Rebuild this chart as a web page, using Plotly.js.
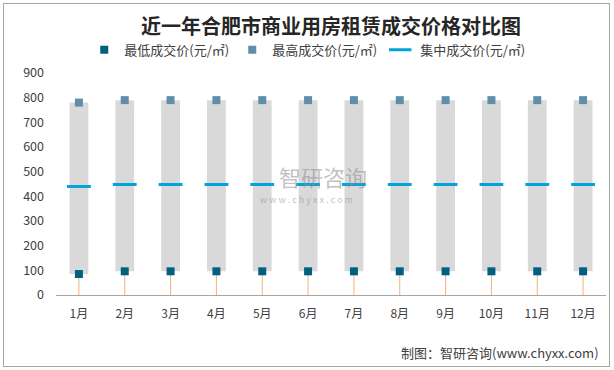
<!DOCTYPE html>
<html>
<head>
<meta charset="utf-8">
<script src="https://cdn.plot.ly/plotly-3.0.1.min.js"></script>
<style>
  html, body { margin: 0; padding: 0; background: #fff; }
  #wrap { position: relative; width: 614px; height: 370px; }
  #chart { width: 614px; height: 370px; }
  #frame { position: absolute; left: 3px; top: 3px; width: 605px; height: 362px; border: 1px solid #A6A6A6; pointer-events: none; }
</style>
</head>
<body>
<div id="wrap"><div id="chart"></div><div id="frame"></div></div>
<script>
var months = ["1月","2月","3月","4月","5月","6月","7月","8月","9月","10月","11月","12月"];
var minPrice = [85, 96, 96, 96, 96, 96, 96, 96, 96, 96, 96, 96];
var maxPrice = [780, 790, 790, 790, 790, 790, 790, 790, 790, 790, 790, 790];
var midPrice = [440, 448, 448, 448, 448, 448, 448, 448, 448, 448, 448, 448];
var seriesNames = ["最低成交价(元/㎡)", "最高成交价(元/㎡)", "集中成交价(元/㎡)"];
var yTicks = [0, 100, 200, 300, 400, 500, 600, 700, 800, 900];

var span = maxPrice.map(function (v, i) { return v - minPrice[i]; });
var zeros = minPrice.map(function () { return 0; });
var font = "'Noto Sans CJK SC', 'Noto Sans', sans-serif";

var traces = [
  {
    type: "bar", x: months, y: span, base: minPrice, width: 0.41,
    marker: { color: "#D9D9D9" }, showlegend: false, hoverinfo: "skip"
  },
  {
    type: "scatter", mode: "markers", x: months, y: minPrice, name: seriesNames[0],
    marker: { symbol: "square", size: 8, color: "#006082" },
    error_y: { type: "data", symmetric: false, array: zeros, arrayminus: minPrice,
               color: "#F4B183", thickness: 1, width: 0 }
  },
  {
    type: "scatter", mode: "markers", x: months, y: maxPrice, name: seriesNames[1],
    marker: { symbol: "square", size: 8, color: "#5E8FAA" }
  },
  {
    type: "scatter", mode: "markers", x: months, y: midPrice, name: seriesNames[2],
    marker: { symbol: "line-ew", size: 17, color: "#00A3DC", line: { color: "#00A3DC", width: 3 } }
  }
];

var layout = {
  width: 614, height: 370,
  margin: { l: 56, r: 8, t: 73, b: 75 },
  paper_bgcolor: "#ffffff", plot_bgcolor: "#ffffff",
  font: { family: font, size: 12, color: "#404040" },
  title: {
    text: "<b>近一年合肥市商业用房租赁成交价格对比图</b>",
    x: 0.5, xref: "paper", xanchor: "center",
    y: 0.927, yref: "container", yanchor: "middle",
    font: { family: font, size: 20, color: "#262626" }
  },
  showlegend: true,
  legend: {
    orientation: "h", x: 0.455, xanchor: "center", y: 1.105, yanchor: "middle",
    font: { family: font, size: 13, color: "#404040" },
    entrywidth: 103, entrywidthmode: "pixels", itemwidth: 30,
    bgcolor: "rgba(0,0,0,0)"
  },
  xaxis: {
    type: "category", range: [-0.5, 11.5], autorange: false,
    showgrid: false, zeroline: false,
    showline: true, linecolor: "#A6A6A6", linewidth: 1,
    ticks: "", ticklabelstandoff: 8,
    tickfont: { family: font, size: 12, color: "#404040" }
  },
  yaxis: {
    range: [0, 900], autorange: false, tickvals: yTicks, showgrid: false, zeroline: false,
    showline: false, ticks: "", ticklabelstandoff: 11,
    tickfont: { family: font, size: 12.5, color: "#404040" }
  },
  annotations: [
    { text: "智研咨询", xref: "paper", yref: "paper", x: 0.485, y: 0.538,
      xanchor: "center", yanchor: "middle", showarrow: false,
      font: { family: font, size: 22, color: "rgba(140,140,140,0.55)" } },
    { text: "w w w . c h y x x . c o m", xref: "paper", yref: "paper", x: 0.456, y: 0.428,
      xanchor: "center", yanchor: "middle", showarrow: false,
      font: { family: font, size: 9, color: "rgba(140,140,140,0.55)" } },
    { text: "制图：智研咨询(www.chyxx.com)", xref: "paper", yref: "paper", x: 0.991, y: -0.257,
      xanchor: "right", yanchor: "middle", showarrow: false,
      font: { family: font, size: 13, color: "#404040" } }
  ]
};

Plotly.newPlot("chart", traces, layout, { displayModeBar: false, staticPlot: true });
</script>
</body>
</html>
